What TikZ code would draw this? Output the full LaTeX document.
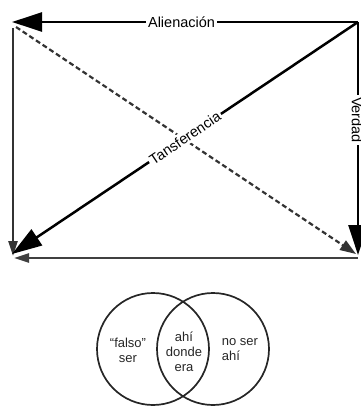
\documentclass[tikz,border=0pt]{standalone}
\usepackage{fontspec}
\setmainfont{Liberation Sans}
\usetikzlibrary{arrows.meta}
\begin{document}
\begin{tikzpicture}[x=1pt,y=-1pt,
  lbl/.style={fill=white,inner sep=2pt,font=\fontsize{14.5}{16}\selectfont},
  venntxt/.style={font=\fontsize{13}{15}\selectfont,inner sep=0pt,text=black!85},
  venncirc/.style={circle,draw=black!85,line width=1.7pt,minimum size=112pt,inner sep=0pt},
  bigtip/.style={-{Triangle[length=30pt,width=19pt]}},
  smalltip/.style={-{Triangle[length=15pt,width=9pt]}},
  midtip/.style={-{Triangle[length=16pt,width=11pt]}}
]
\useasboundingbox (0,0) rectangle (361,407);
% corner points
\coordinate (TL) at (12,22);
\coordinate (TR) at (358,22);
\coordinate (LVs) at (13,28);
\coordinate (LVe) at (13,256);
\coordinate (BLd) at (12,254);
\coordinate (BRs) at (358,258);
\coordinate (BLb) at (14,258);
\coordinate (BR) at (358,255);
\coordinate (DS) at (16,27);
\coordinate (DE) at (356,254);

% left vertical
\draw[black!80,line width=2.2pt,smalltip] (LVs) -- (LVe);
% bottom
\draw[black!75,line width=2.3pt,smalltip] (BRs) -- (BLb);
% dashed diagonal
\draw[black!80,line width=2.2pt,dash pattern=on 5pt off 3pt,midtip] (DS) -- (DE);
% right vertical
\draw[black,line width=2.5pt,bigtip] (TR) -- (BR);
\node[lbl,rotate=-90] (verdad) at (357,120) {Verdad};
% solid diagonal
\draw[black,line width=2.5pt,bigtip] (TR) -- node[lbl,sloped,pos=0.5] (tans) {Tansferencia} (BLd);
% top
\draw[black,line width=2.5pt,bigtip] (TR) -- node[lbl,pos=0.51] (alien) {Alienación} (TL);

% Venn
\node[venncirc] (lc) at (153,349) {};
\node[venncirc] (rc) at (213,349) {};
\node[venntxt,align=center] (t1) at (128,350) {“falso”\\ser};
\node[venntxt,align=center] (t2) at (184,352) {ahí\\donde\\era};
\node[venntxt,align=left] (t3) at (240,350) {no ser\\ahí};
\end{tikzpicture}
\end{document}
